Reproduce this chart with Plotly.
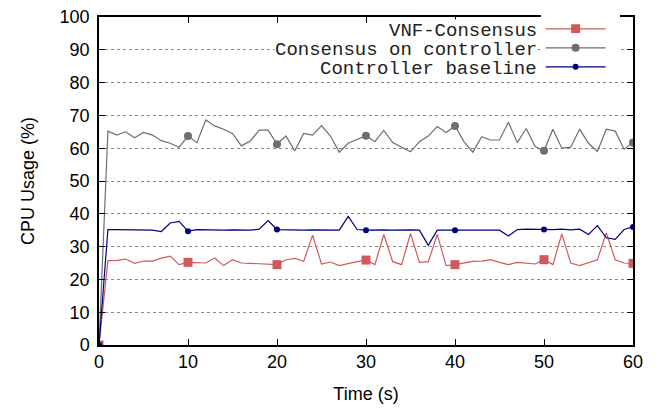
import plotly.graph_objects as go

time_s = list(range(61))

vnf_consensus = [0, 25.7, 25.8, 26.2, 24.9, 25.6, 25.6, 26.5, 27.1, 24.5,
                 25.2, 25.2, 25.0, 26.5, 24.2, 26.0, 25.0, 24.9, 24.7, 24.5,
                 24.5, 26.0, 26.4, 25.5, 33.5, 24.7, 25.3, 24.2, 24.9, 25.4,
                 25.9, 24.5, 33.7, 25.4, 24.5, 34.0, 25.2, 25.4, 33.7, 24.2,
                 24.5, 24.9, 25.5, 25.6, 26.0, 25.2, 24.5, 25.2, 24.9, 24.7,
                 26.0, 24.5, 33.9, 25.0, 24.2, 25.2, 26.0, 34.2, 26.0, 25.0,
                 24.9]

consensus_ctrl = [0, 65.2, 64.0, 65.0, 63.2, 64.8, 64.0, 62.3, 61.5, 60.3,
                  63.7, 61.7, 68.6, 66.8, 65.8, 64.5, 60.7, 62.2, 65.5, 65.5,
                  61.2, 63.7, 59.2, 64.5, 64.0, 66.9, 63.7, 58.8, 61.5, 62.7,
                  63.8, 62.0, 65.4, 61.7, 60.3, 58.9, 62.0, 63.7, 66.6, 64.8,
                  66.8, 62.0, 58.8, 63.5, 62.5, 62.5, 67.9, 61.7, 66.0, 60.5,
                  59.2, 65.8, 60.0, 60.3, 65.8, 61.5, 59.0, 65.8, 65.2, 59.7,
                  61.7]

ctrl_baseline = [0, 35.2, 35.2, 35.2, 35.0, 35.2, 35.0, 34.6, 37.2, 37.7,
                 34.7, 35.2, 35.1, 35.1, 35.0, 35.1, 35.1, 35.0, 35.3, 37.9,
                 35.2, 35.1, 35.1, 35.0, 35.1, 35.1, 35.0, 35.0, 39.2, 35.2,
                 35.0, 35.1, 35.1, 35.0, 35.1, 35.1, 35.0, 30.4, 35.0, 35.1,
                 35.0, 35.0, 35.0, 35.0, 35.0, 35.0, 33.2, 35.2, 35.3, 35.2,
                 35.2, 35.2, 35.3, 35.1, 35.3, 33.7, 36.4, 32.7, 32.2, 35.2,
                 36.0]

series = [
    ("VNF-Consensus", vnf_consensus, "#d05a5a", "square", 9),
    ("Consensus on controller", consensus_ctrl, "#6e6e6e", "circle", 8),
    ("Controller baseline", ctrl_baseline, "#000080", "circle", 6),
]
legend_ids = ["legend", "legend2", "legend3"]
label_y = [0.957, 0.899, 0.841]
sample_y = [0.964, 0.906, 0.848]

fig = go.Figure()

for (label, vals, col, sym, sz), lg in zip(series, legend_ids):
    # markers only every 10 s, like gnuplot's pointinterval
    mcols = [col if t % 10 == 0 else "rgba(0,0,0,0)" for t in time_s]
    fig.add_trace(go.Scatter(
        x=time_s, y=vals, name=" ", mode="lines+markers", legend=lg,
        line=dict(color=col, width=1.2),
        marker=dict(symbol=sym, size=sz, color=mcols, line=dict(width=0)),
        hovertemplate=label + ": %{y}<extra></extra>",
    ))

# key text drawn right-aligned to the left of the samples (opaque key)
for (label, vals, col, sym, sz), ly in zip(series, label_y):
    fig.add_annotation(
        text=label, xref="paper", yref="paper", x=0.822, y=ly,
        xanchor="right", yanchor="middle", showarrow=False,
        bgcolor="white", borderpad=0,
        font=dict(family="Liberation Mono", size=19, color="#222222"),
    )

axis_common = dict(
    showline=True, linecolor="black", linewidth=1.5, mirror="ticks",
    ticks="inside", ticklen=6, tickcolor="black", zeroline=False,
    automargin=False, ticklabeloverflow="allow",
    tickfont=dict(family="Liberation Sans", size=18, color="black"),
)

fig.update_xaxes(
    range=[0, 60], dtick=10, showgrid=False,
    title=dict(text="Time (s)", font=dict(family="Liberation Sans", size=18, color="black"), standoff=16),
    **axis_common,
)
fig.update_yaxes(
    range=[0, 100], dtick=10, showgrid=True, gridcolor="#8a8a8a",
    griddash="dot", gridwidth=1, ticklabelstandoff=4,
    title=dict(text="CPU Usage (%)", font=dict(family="Liberation Sans", size=18, color="black"), standoff=20),
    **axis_common,
)

legend_style = dict(x=0.827, xanchor="left", yanchor="middle", bgcolor="white",
                    font=dict(size=12), itemwidth=60)

# page body adds an 8px offset, so the figure is a bit smaller than the window
fig.update_layout(
    width=653, height=402,
    margin=dict(l=91, r=28, t=6, b=65),
    plot_bgcolor="white", paper_bgcolor="white",
    showlegend=True,
    legend=dict(y=sample_y[0], **legend_style),
    legend2=dict(y=sample_y[1], **legend_style),
    legend3=dict(y=sample_y[2], **legend_style),
)

fig.write_html("out.html")
